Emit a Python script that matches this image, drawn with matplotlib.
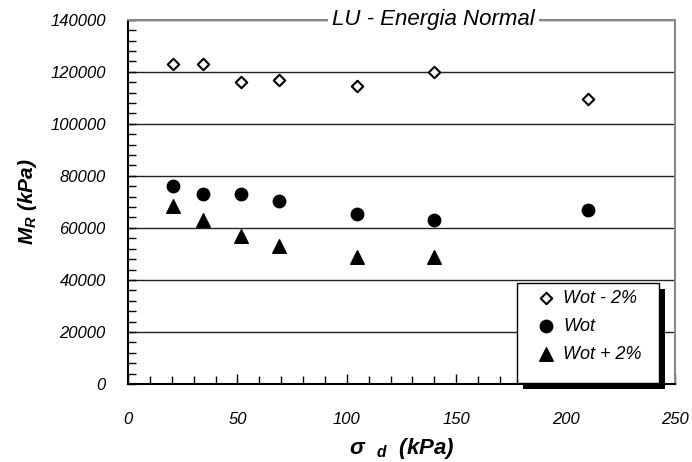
import matplotlib
matplotlib.use("Agg")
from matplotlib import pyplot as plt
from matplotlib.ticker import MultipleLocator
from matplotlib.patches import Rectangle
import matplotlib.patheffects as pe

plt.rcParams['font.family'] = ['Liberation Sans', 'DejaVu Sans']
plt.rcParams['mathtext.fontset'] = 'custom'
plt.rcParams['mathtext.it'] = 'Liberation Sans:italic:bold'
plt.rcParams['mathtext.rm'] = 'Liberation Sans:bold'
plt.rcParams['mathtext.default'] = 'it'

# tensão desvio (kPa)
sigma_d = [20.5, 34.4, 51.6, 68.8, 104.6, 139.8, 210.3]

# módulo de resiliência (kPa)
mr_wot_menos2 = [122900, 122900, 116200, 116800, 114600, 119800, 109600]
mr_wot = [76100, 73200, 73200, 70400, 65200, 63000, 66700]
mr_wot_mais2 = [68300, 63100, 56700, 53100, 48700, 48700]

labels = ['Wot - 2%', 'Wot', 'Wot + 2%']

fig = plt.figure(figsize=(6.92, 4.62), dpi=100)
ax = fig.add_axes([0.185, 0.169, 0.7905, 0.788])

ax.scatter(sigma_d, mr_wot_menos2, marker='D', s=34, facecolor='white',
           edgecolor='black', linewidth=1.5, label=labels[0], zorder=3)
ax.scatter(sigma_d, mr_wot, marker='o', s=80, color='black',
           label=labels[1], zorder=3)
ax.scatter(sigma_d[:6], mr_wot_mais2, marker='^', s=95, color='black',
           label=labels[2], zorder=3)

ax.set_xlim(0, 250)
ax.set_ylim(0, 140000)
ax.xaxis.set_major_locator(MultipleLocator(50))
ax.xaxis.set_minor_locator(MultipleLocator(10))
ax.yaxis.set_major_locator(MultipleLocator(20000))
ax.yaxis.set_minor_locator(MultipleLocator(4000))

ax.tick_params(which='both', direction='in', top=False, right=False,
               labelsize=12, width=1)
ax.tick_params(axis='x', which='major', length=7, pad=20)
ax.tick_params(axis='x', which='minor', length=6)
ax.tick_params(axis='y', which='major', length=6, pad=16)
ax.tick_params(axis='y', which='minor', length=6)
for lab in ax.get_xticklabels() + ax.get_yticklabels():
    lab.set_fontstyle('italic')

# linhas de grade horizontais
ax.grid(axis='y', which='major', color='#222222', linewidth=1)
ax.set_axisbelow(True)

ax.spines['left'].set_linewidth(1.5)
ax.spines['bottom'].set_linewidth(1.5)
for lado in ['top', 'right']:
    ax.spines[lado].set_color('#888888')
    ax.spines[lado].set_linewidth(1.5)

ax.text(0.559, 1.0, 'LU - Energia Normal', transform=ax.transAxes,
        ha='center', va='center', fontsize=16, fontstyle='italic',
        bbox=dict(facecolor='white', edgecolor='none', pad=3), zorder=5)

ax.set_xlabel(r'σ  ${}_{d}$  (kPa)', fontsize=16, fontweight='bold',
              fontstyle='italic', labelpad=7)
ax.set_ylabel(r'$M_R$ (kPa)', fontsize=15, fontweight='bold',
              fontstyle='italic', labelpad=8)

# caixa da legenda com sombra preta
caixa = Rectangle((0.711, 0.003), 0.26, 0.274, transform=ax.transAxes,
                  facecolor='white', edgecolor='black', linewidth=1,
                  clip_on=False, zorder=6)
caixa.set_path_effects([
    pe.SimplePatchShadow(offset=(4.5, -4.5), shadow_rgbFace='black', alpha=1),
    pe.Normal()])
ax.add_patch(caixa)

leg = ax.legend(loc='upper left', bbox_to_anchor=(0.748, 0.258),
                frameon=False, prop={'style': 'italic', 'size': 13},
                borderpad=0, labelspacing=0.6, handlelength=1,
                handletextpad=0.45, borderaxespad=0, markerscale=1,
                scatterpoints=1)
leg.set_zorder(7)

fig.savefig('out.png', dpi=100)
